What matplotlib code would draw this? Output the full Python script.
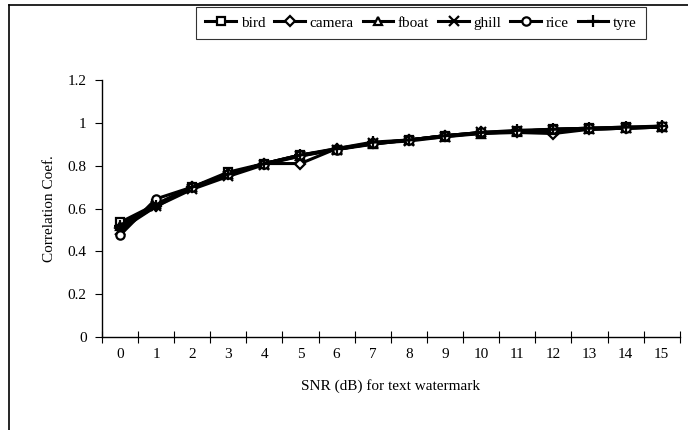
import numpy as np
import matplotlib.pyplot as plt
from matplotlib.lines import Line2D

# SNR (dB) for the text watermark and the correlation coefficient per image
snr = list(range(16))
bird   = [0.535, 0.62, 0.70, 0.77, 0.81, 0.85, 0.875, 0.90, 0.92, 0.94, 0.95, 0.96, 0.97, 0.975, 0.98, 0.98]
camera = [0.51, 0.61, 0.70, 0.76, 0.81, 0.81, 0.88, 0.905, 0.92, 0.94, 0.955, 0.955, 0.95, 0.97, 0.975, 0.98]
fboat  = [0.52, 0.62, 0.70, 0.76, 0.81, 0.845, 0.88, 0.90, 0.92, 0.935, 0.95, 0.955, 0.965, 0.97, 0.975, 0.98]
ghill  = [0.50, 0.61, 0.69, 0.75, 0.805, 0.845, 0.875, 0.905, 0.915, 0.935, 0.955, 0.96, 0.965, 0.97, 0.975, 0.98]
rice   = [0.475, 0.645, 0.70, 0.76, 0.81, 0.85, 0.875, 0.905, 0.92, 0.94, 0.955, 0.96, 0.97, 0.975, 0.975, 0.985]
tyre   = [0.52, 0.61, 0.70, 0.76, 0.81, 0.85, 0.88, 0.91, 0.92, 0.94, 0.955, 0.965, 0.97, 0.975, 0.98, 0.985]

series = {'bird': bird, 'camera': camera, 'fboat': fboat,
          'ghill': ghill, 'rice': rice, 'tyre': tyre}
markers = {'bird': 's', 'camera': 'D', 'fboat': '^', 'ghill': 'x', 'rice': 'o', 'tyre': '+'}
msizes = {'bird': 6, 'camera': 5, 'fboat': 6, 'ghill': 7, 'rice': 6, 'tyre': 9}

plt.rcParams['font.family'] = ['Liberation Serif', 'DejaVu Serif']
plt.rcParams['font.size'] = 11

fig = plt.figure(figsize=(6.88, 4.30), dpi=100)
ax = fig.add_axes([0.148, 0.216, 0.840, 0.598])

for name, vals in series.items():
    ax.plot(snr, vals, color='black', linewidth=2.2, marker=markers[name],
            markersize=msizes[name], markerfacecolor='white', markeredgecolor='black',
            markeredgewidth=1.6, label=name)

ax.set_xlim(-0.5, 15.5)
ax.set_ylim(0, 1.2)
ax.set_xticks(np.arange(-0.5, 16, 1))
ax.set_xticklabels([])
ax.set_xticks(snr, minor=True)
ax.set_xticklabels([str(s) for s in snr], minor=True)
ax.tick_params(axis='x', which='major', direction='inout', length=8, width=0.8)
ax.tick_params(axis='x', which='minor', length=0, pad=8)
ax.set_yticks([0, 0.2, 0.4, 0.6, 0.8, 1.0, 1.2])
ax.set_yticklabels(['0', '0.2', '0.4', '0.6', '0.8', '1', '1.2'])
ax.tick_params(axis='y', direction='out', length=5, width=0.8, pad=6)

for s in ['top', 'right']:
    ax.spines[s].set_visible(False)
for s in ['left', 'bottom']:
    ax.spines[s].set_linewidth(1.0)

ax.set_xlabel('SNR (dB) for text watermark', labelpad=13)
ax.set_ylabel('Correlation Coef.', labelpad=8)

leg = fig.legend(loc='center', bbox_to_anchor=(0.612, 0.947), ncol=6, frameon=True,
                 fancybox=False, edgecolor='black', handlelength=2.0, handletextpad=0.3,
                 columnspacing=0.6, borderpad=0.6, fontsize=11)
leg.get_frame().set_linewidth(0.8)

# partial outer frame (left and top)
x0 = 9 / 688
y0 = 1 - 5 / 430
fig.add_artist(Line2D([x0, x0], [0, y0], transform=fig.transFigure, color='black', linewidth=1.2))
fig.add_artist(Line2D([x0, 1], [y0, y0], transform=fig.transFigure, color='black', linewidth=1.2))

fig.savefig('out.png', dpi=100)
